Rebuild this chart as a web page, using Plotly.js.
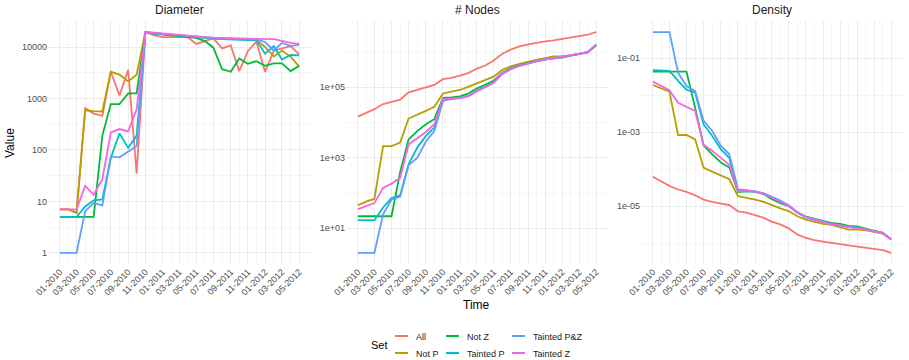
<!DOCTYPE html>
<html>
<head>
<meta charset="utf-8">
<script src="https://cdn.plot.ly/plotly-3.0.1.min.js"></script>
<style>
  html, body { margin: 0; padding: 0; background: #ffffff; }
  #chart { width: 909px; height: 360px; }
</style>
</head>
<body>
<div id="chart"></div>
<script>
// ---------- DATA ----------
const months = ['2010-01-01','2010-02-01','2010-03-01','2010-04-01','2010-05-01','2010-06-01','2010-07-01','2010-08-01','2010-09-01','2010-10-01',
                '2010-11-01','2010-12-01','2011-01-01','2011-02-01','2011-03-01','2011-04-01','2011-05-01','2011-06-01','2011-07-01','2011-08-01',
                '2011-09-01','2011-10-01','2011-11-01','2011-12-01','2012-01-01','2012-02-01','2012-03-01','2012-04-01','2012-05-01'];
const monthLabels = ['01-2010','02-2010','03-2010','04-2010','05-2010','06-2010','07-2010','08-2010','09-2010','10-2010',
                     '11-2010','12-2010','01-2011','02-2011','03-2011','04-2011','05-2011','06-2011','07-2011','08-2011',
                     '09-2011','10-2011','11-2011','12-2011','01-2012','02-2012','03-2012','04-2012','05-2012'];
const sets = ['All','Not P','Not Z','Tainted P','Tainted P&Z','Tainted Z'];
const panels = ['Diameter','# Nodes','Density'];

// Diameter
const diamAll   = [7,7,6,650,510,460,3300,1150,3600,35,19500,17000,15500,15500,16000,15500,11500,13000,14700,9400,10700,3400,8300,12700,3300,8500,9400,10400,7200];
const diamNotP  = [7,7,6,590,570,560,3300,2900,2150,2900,19500,18500,17600,17000,16600,16000,15500,15000,14700,14500,14300,14200,14100,13800,10000,6500,8500,6500,4200];
const diamNotZ  = [5,5,5,5,5,190,780,780,1250,1270,19000,18300,17500,17000,16300,15500,15000,13000,9700,3700,3300,6000,4700,5300,4300,4800,4800,3400,4300];
const diamTP    = [5,5,5,8,10.5,11,70,210,110,190,19000,18400,17700,17100,16600,16000,15400,14900,14500,14300,14200,14100,14000,13500,7400,10400,5700,7000,6900];
const diamTPZ   = [1,1,1,6.5,9.3,8.4,75,72,94,120,19200,18600,17900,17300,16800,16300,15600,15100,14700,14500,14400,14300,14200,14000,12500,8500,12000,10500,11000];
const diamTZ    = [7,7,7,20,13.5,27,220,255,230,610,19500,18900,18200,17700,17200,16700,16100,15600,15200,14900,14700,14600,14500,14400,14300,14200,13200,12000,11500];

// # Nodes
const nodesAll  = [14800,19400,24000,33500,39000,44500,72000,86000,100000,117000,170000,185000,215000,257000,335000,415000,575000,900000,1170000,1450000,1660000,1850000,2000000,2150000,2350000,2600000,2800000,3100000,3700000];
const nodesNotP = [45,58,68,2150,2150,2700,13000,16500,21500,28000,67000,75000,84000,105000,130000,162000,200000,312000,390000,460000,540000,600000,670000,750000,760000,800000,890000,1000000,1550000];
const nodesNotZ = [22,22,22,22,22,400,3300,5700,9000,12500,50000,52000,55000,68000,92000,118000,155000,260000,345000,425000,495000,560000,620000,660000,700000,790000,880000,980000,1550000];
const nodesTP   = [17,17,17,39,72,86,650,1950,4200,7200,45000,48000,50000,58000,80000,105000,140000,250000,335000,415000,485000,550000,620000,670000,720000,800000,890000,1000000,1600000];
const nodesTPZ  = [2,2,2,25,65,80,620,1000,2900,5700,41000,46000,49000,56000,76000,100000,135000,240000,325000,405000,475000,545000,615000,665000,720000,800000,890000,1000000,1650000];
const nodesTZ   = [35,42,52,140,185,270,2400,3600,5400,9000,46000,48000,50000,57000,78000,102000,137000,245000,330000,410000,480000,545000,615000,670000,720000,800000,890000,1000000,1600000];

// Density
const densAll   = [6.2e-5,4.6e-5,3.5e-5,2.8e-5,2.4e-5,1.95e-5,1.5e-5,1.3e-5,1.18e-5,1.06e-5,7.2e-6,6.6e-6,5.7e-6,4.8e-6,3.8e-6,3.2e-6,2.5e-6,1.7e-6,1.38e-6,1.2e-6,1.1e-6,1.0e-6,9.3e-7,8.7e-7,8.0e-7,7.4e-7,6.9e-7,6.4e-7,5.4e-7];
const densNotP  = [0.0186,0.015,0.0123,8.3e-4,8.3e-4,6.3e-4,1.1e-4,8.5e-5,6.8e-5,5.3e-5,1.85e-5,1.7e-5,1.5e-5,1.3e-5,1.06e-5,8.7e-6,7.3e-6,5.3e-6,4.3e-6,3.8e-6,3.3e-6,3.1e-6,2.7e-6,2.3e-6,2.3e-6,2.2e-6,2.0e-6,1.8e-6,1.26e-6];
const densNotZ  = [0.043,0.043,0.043,0.043,0.043,0.0045,4.4e-4,2.5e-4,1.5e-4,1.1e-4,2.4e-5,2.5e-5,2.4e-5,2.1e-5,1.55e-5,1.2e-5,1.0e-5,6.8e-6,5.2e-6,4.5e-6,4.0e-6,3.5e-6,3.3e-6,2.9e-6,2.8e-6,2.4e-6,2.15e-6,1.9e-6,1.26e-6];
const densTP    = [0.047,0.047,0.045,0.024,0.014,0.0115,0.0016,7.8e-4,3.4e-4,2.0e-4,2.6e-5,2.6e-5,2.45e-5,2.2e-5,1.75e-5,1.35e-5,1.02e-5,6.7e-6,5.0e-6,4.3e-6,3.8e-6,3.3e-6,3.1e-6,2.7e-6,2.6e-6,2.3e-6,2.1e-6,1.9e-6,1.26e-6];
const densTPZ   = [0.5,0.5,0.5,0.04,0.0175,0.0128,0.002,0.00107,4.2e-4,2.5e-4,2.8e-5,2.7e-5,2.5e-5,2.2e-5,1.8e-5,1.4e-5,1.05e-5,6.8e-6,5.1e-6,4.3e-6,3.8e-6,3.3e-6,3.0e-6,2.7e-6,2.6e-6,2.3e-6,2.1e-6,1.85e-6,1.25e-6];
const densTZ    = [0.023,0.0175,0.0134,0.0062,0.0048,0.0037,4.5e-4,3.1e-4,2.0e-4,1.3e-4,2.5e-5,2.6e-5,2.45e-5,2.15e-5,1.7e-5,1.3e-5,1.0e-5,6.6e-6,5.0e-6,4.2e-6,3.7e-6,3.2e-6,3.0e-6,2.7e-6,2.5e-6,2.3e-6,2.05e-6,1.85e-6,1.25e-6];

// Y tick values / labels per panel
const diamTickVals  = [1,10,100,1000,10000];
const diamTickText  = ['1','10','100','1000','10000'];
const nodesTickVals = [10,1000,100000];
const nodesTickText = ['1e+01','1e+03','1e+05'];
const densTickVals  = [0.1,0.001,0.00001];
const densTickText  = ['1e-01','1e-03','1e-05'];

// ---------- STYLE ----------
const colors = ['#F8766D','#B79F00','#00BA38','#00BFC4','#619CFF','#F564E3'];
const FONT = 'Liberation Sans, Arial, Helvetica, sans-serif';
const seriesByPanel = [
  [diamAll, diamNotP, diamNotZ, diamTP, diamTPZ, diamTZ],
  [nodesAll, nodesNotP, nodesNotZ, nodesTP, nodesTPZ, nodesTZ],
  [densAll, densNotP, densNotZ, densTP, densTPZ, densTZ]
];
const legendIds = ['legend','legend2','legend3','legend4','legend5','legend6'];

const traces = [];
seriesByPanel.forEach((series, p) => {
  series.forEach((vals, s) => {
    traces.push({
      type: 'scatter', mode: 'lines',
      x: months, y: vals, name: sets[s],
      xaxis: p === 0 ? 'x' : 'x' + (p + 1),
      yaxis: p === 0 ? 'y' : 'y' + (p + 1),
      line: { color: colors[s], width: 1.8 },
      showlegend: p === 0,
      legend: legendIds[s],
      hoverinfo: 'skip'
    });
  });
});

const majorIdx = months.map((m, i) => i).filter(i => i % 2 === 0);
const minorIdx = months.map((m, i) => i).filter(i => i % 2 === 1);
const xTickVals = majorIdx.map(i => months[i]);
const xTickText = majorIdx.map(i => monthLabels[i]);
const xMinorVals = minorIdx.map(i => months[i]);

const GRID = '#ebebeb';
function xAxis(domain, anchor) {
  return {
    type: 'date', domain: domain, anchor: anchor,
    range: ['2009-11-19 12:00', '2012-06-12 12:00'],
    tickmode: 'array', tickvals: xTickVals, ticktext: xTickText,
    tickangle: -45, tickfont: { family: FONT, size: 9, color: '#4d4d4d' },
    showgrid: true, gridcolor: GRID, gridwidth: 1,
    minor: { tickmode: 'array', tickvals: xMinorVals, showgrid: true, gridcolor: GRID, gridwidth: 0.5, ticks: '' },
    zeroline: false, showline: false, ticks: '', fixedrange: true, automargin: false
  };
}
function yAxis(range, vals, text, minorVals) {
  return {
    type: 'log', range: range,
    tickmode: 'array', tickvals: vals, ticktext: text,
    tickfont: { family: FONT, size: 9, color: '#4d4d4d' },
    showgrid: true, gridcolor: GRID, gridwidth: 1,
    minor: { tickmode: 'array', tickvals: minorVals, showgrid: true, gridcolor: GRID, gridwidth: 0.5, ticks: '' },
    zeroline: false, showline: false, ticks: '', fixedrange: true, automargin: false
  };
}

const W = 909, H = 360, ML = 48, MR = 6, MT = 21, MB = 96;
const PW = W - ML - MR, PH = H - MT - MB;
const px = v => (v - ML) / PW;
const py = v => 1 - (v - MT) / PH;

function legendAt(xpx, ypx) {
  return {
    x: px(xpx), y: py(ypx), xanchor: 'left', yanchor: 'middle',
    orientation: 'v', bgcolor: 'rgba(0,0,0,0)', borderwidth: 0,
    font: { family: FONT, size: 9, color: '#1a1a1a' },
    itemclick: false, itemdoubleclick: false
  };
}

const layout = {
  width: W, height: H,
  margin: { l: ML, r: MR, t: MT, b: MB, pad: 0, autoexpand: false },
  paper_bgcolor: '#ffffff', plot_bgcolor: '#ffffff',
  font: { family: FONT, color: '#1a1a1a' },
  xaxis:  xAxis([0, px(311)], 'y'),
  xaxis2: xAxis([px(346), px(608)], 'y2'),
  xaxis3: xAxis([px(641), 1], 'y3'),
  yaxis:  yAxis([-0.2145, 4.505], diamTickVals, diamTickText, [Math.sqrt(10), Math.sqrt(10)*10, Math.sqrt(10)*100, Math.sqrt(10)*1000, Math.sqrt(10)*10000]),
  yaxis2: Object.assign(yAxis([-0.012, 6.881], nodesTickVals, nodesTickText, [1, 100, 10000, 1000000]), { domain: [0, 1], anchor: 'x2' }),
  yaxis3: Object.assign(yAxis([-6.566, 0.0], densTickVals, densTickText, [0.01, 0.0001, 0.000001]), { domain: [0, 1], anchor: 'x3' }),
  legend:  legendAt(376, 336),
  legend2: legendAt(376, 353),
  legend3: legendAt(427, 336),
  legend4: legendAt(427, 353),
  legend5: legendAt(493, 336),
  legend6: legendAt(493, 353),
  annotations: [
    { text: panels[0], x: px(179.5), y: py(10), xref: 'paper', yref: 'paper', showarrow: false, xanchor: 'center', yanchor: 'middle', font: { family: FONT, size: 12, color: '#1a1a1a' } },
    { text: panels[1], x: px(477), y: py(10), xref: 'paper', yref: 'paper', showarrow: false, xanchor: 'center', yanchor: 'middle', font: { family: FONT, size: 12, color: '#1a1a1a' } },
    { text: panels[2], x: px(772), y: py(10), xref: 'paper', yref: 'paper', showarrow: false, xanchor: 'center', yanchor: 'middle', font: { family: FONT, size: 12, color: '#1a1a1a' } },
    { text: 'Value', x: px(10), y: py(143), xref: 'paper', yref: 'paper', showarrow: false, textangle: -90, xanchor: 'center', yanchor: 'middle', font: { family: FONT, size: 12, color: '#000000' } },
    { text: 'Time', x: px(476), y: py(305), xref: 'paper', yref: 'paper', showarrow: false, xanchor: 'center', yanchor: 'middle', font: { family: FONT, size: 12, color: '#000000' } },
    { text: 'Set', x: px(379.5), y: py(345), xref: 'paper', yref: 'paper', showarrow: false, xanchor: 'center', yanchor: 'middle', font: { family: FONT, size: 11, color: '#000000' } }
  ]
};

function shortenKeys(gd) {
  // compact ggplot-style legend keys
  gd.querySelectorAll('g.legendlines path, g.legendsymbols path.js-line').forEach(p => p.setAttribute('d', 'M19,0h13'));
}
Plotly.newPlot('chart', traces, layout, { staticPlot: true, displayModeBar: false }).then(gd => {
  shortenKeys(gd);
  setTimeout(() => shortenKeys(gd), 50);
});
</script>
</body>
</html>
